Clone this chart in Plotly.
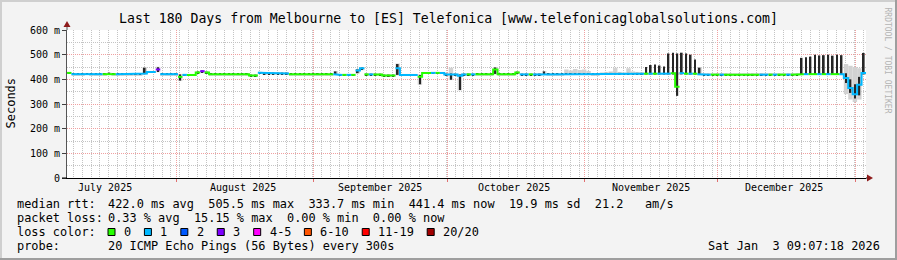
import plotly.graph_objects as go
from datetime import datetime, timedelta

# ---------------- data ----------------
TITLE = "Last 180 Days from Melbourne to [ES] Telefonica [www.telefonicaglobalsolutions.com]"
START = datetime(2025, 7, 7, 9, 7, 18)
N_DAYS = 180

# daily median rtt (ms)
median_rtt = [
    426, 421, 421, 421, 422, 421, 421, 421, 421, 424,
    421, 421, 421, 421, 421, 421, 421, 424, 430, 430,
    440, 421, 421, 421, 421, 410, 418, 418, 418, 428,
    433, 428, 421, 421, 421, 421, 421, 421, 421, 421,
    421, 416, 416, 427, 424, 424, 424, 424, 424, 424,
    421, 421, 421, 421, 421, 421, 421, 421, 421, 421,
    421, 418, 418, 418, 418, 436, 445, 420, 420, 420,
    420, 416, 416, 416, 445, 418, 418, 418, 418, 410,
    426, 426, 426, 426, 426, 420, 420, 420, 415, 420,
    420, 420, 421, 421, 421, 421, 440, 421, 421, 421,
    421, 428, 420, 420, 420, 420, 420, 421, 421, 421,
    421, 421, 421, 421, 421, 421, 421, 421, 421, 421,
    423, 423, 423, 423, 423, 423, 423, 423, 423, 423,
    423, 423, 423, 423, 423, 423, 425, 370, 425, 423,
    423, 423, 421, 419, 419, 419, 419, 419, 419, 419,
    419, 419, 419, 419, 419, 419, 419, 419, 419, 419,
    419, 419, 419, 419, 419, 421, 421, 421, 421, 421,
    421, 421, 421, 421, 421, 405, 365, 340, 378, 426,
]

# daily loss class (index into loss_labels)
loss_class = [
    0, 1, 1, 1, 1, 1, 1, 1, 0, 0,
    0, 1, 1, 1, 1, 1, 1, 1, 1, 1,
    3, 1, 1, 1, 1, 0, 1, 0, 0, 0,
    3, 0, 0, 0, 0, 0, 0, 0, 0, 0,
    0, 0, 0, 1, 1, 1, 1, 1, 1, 1,
    0, 0, 0, 0, 0, 0, 0, 0, 0, 0,
    1, 1, 0, 1, 0, 1, 1, 0, 1, 0,
    0, 0, 0, 0, 1, 1, 1, 1, 1, 0,
    0, 0, 1, 0, 1, 1, 1, 1, 1, 1,
    0, 1, 0, 0, 0, 0, 0, 0, 0, 0,
    0, 0, 1, 1, 0, 1, 1, 1, 1, 1,
    1, 1, 1, 1, 1, 1, 1, 1, 1, 1,
    1, 1, 1, 1, 1, 1, 1, 1, 1, 1,
    0, 1, 0, 1, 1, 1, 0, 0, 1, 0,
    1, 0, 1, 1, 1, 0, 0, 1, 0, 0,
    0, 0, 0, 0, 0, 0, 1, 1, 0, 1,
    0, 0, 1, 0, 0, 0, 1, 0, 0, 1,
    0, 1, 0, 0, 1, 1, 1, 1, 1, 1,
]

# dense part of the ping distribution (dark smoke)
core_lo = [
    423, 418, 418, 418, 419, 418, 418, 418, 418, 421,
    418, 418, 418, 418, 418, 418, 418, 421, 427, 427,
    430, 418, 418, 418, 418, 395, 415, 415, 415, 424,
    428, 425, 418, 418, 418, 418, 418, 418, 418, 418,
    418, 413, 413, 424, 421, 421, 421, 421, 421, 421,
    418, 418, 418, 418, 418, 418, 418, 418, 418, 418,
    418, 415, 415, 415, 415, 425, 438, 417, 417, 417,
    417, 413, 413, 413, 418, 415, 415, 415, 415, 380,
    423, 423, 423, 423, 423, 417, 398, 417, 357, 417,
    417, 417, 418, 418, 418, 418, 422, 418, 418, 418,
    418, 425, 417, 417, 417, 417, 417, 418, 418, 418,
    418, 418, 418, 418, 418, 418, 418, 418, 418, 418,
    420, 420, 420, 420, 420, 420, 420, 420, 420, 420,
    420, 420, 420, 420, 420, 420, 420, 333, 420, 420,
    420, 420, 418, 416, 416, 416, 416, 416, 416, 416,
    416, 416, 416, 416, 416, 416, 416, 416, 416, 416,
    416, 416, 416, 416, 416, 418, 418, 418, 418, 418,
    418, 418, 418, 418, 418, 385, 345, 322, 335, 420,
]
core_hi = [
    429, 424, 424, 424, 425, 424, 424, 424, 424, 427,
    424, 424, 424, 424, 424, 424, 424, 447, 433, 433,
    449, 424, 424, 424, 424, 420, 421, 421, 421, 432,
    436, 431, 424, 424, 424, 424, 424, 424, 424, 424,
    424, 419, 419, 430, 427, 427, 427, 427, 427, 427,
    424, 424, 424, 424, 424, 424, 424, 424, 424, 424,
    432, 421, 421, 421, 421, 440, 448, 423, 423, 423,
    423, 419, 419, 419, 462, 421, 421, 421, 421, 418,
    429, 429, 429, 429, 429, 423, 424, 423, 420, 423,
    423, 423, 424, 424, 424, 424, 448, 424, 424, 424,
    424, 431, 423, 423, 423, 423, 423, 432, 424, 424,
    424, 424, 424, 424, 424, 424, 424, 424, 424, 424,
    426, 426, 426, 426, 426, 426, 426, 426, 426, 426,
    450, 458, 460, 456, 452, 505, 508, 505, 508, 505,
    500, 480, 447, 422, 422, 422, 422, 422, 422, 422,
    422, 422, 422, 422, 422, 422, 422, 422, 422, 422,
    422, 422, 422, 422, 422, 487, 490, 492, 500, 497,
    498, 500, 496, 500, 498, 425, 400, 380, 410, 507,
]

# full spread of the pings (light smoke)
smoke_lo = [
    422, 417, 417, 417, 418, 417, 417, 417, 417, 420,
    417, 417, 417, 417, 417, 417, 417, 420, 426, 426,
    429, 417, 417, 417, 417, 393, 414, 414, 414, 423,
    427, 424, 417, 417, 417, 417, 417, 417, 417, 417,
    417, 412, 412, 423, 420, 420, 420, 420, 420, 420,
    417, 417, 417, 417, 417, 417, 417, 417, 417, 417,
    417, 414, 414, 414, 414, 424, 437, 416, 416, 416,
    416, 412, 412, 412, 416, 414, 414, 414, 414, 378,
    422, 422, 422, 422, 422, 416, 397, 416, 355, 416,
    416, 416, 417, 417, 417, 417, 420, 417, 417, 417,
    417, 424, 416, 416, 416, 416, 416, 417, 417, 417,
    417, 417, 417, 417, 417, 417, 417, 417, 417, 417,
    419, 419, 419, 419, 419, 419, 419, 419, 419, 419,
    420, 420, 420, 420, 420, 420, 422, 420, 422, 420,
    420, 420, 417, 415, 415, 415, 415, 415, 415, 415,
    415, 415, 415, 415, 415, 415, 415, 415, 415, 415,
    415, 415, 415, 415, 415, 418, 418, 418, 418, 418,
    418, 418, 418, 418, 418, 340, 318, 308, 318, 418,
]
smoke_hi = [
    430, 425, 425, 425, 426, 425, 425, 425, 425, 428,
    425, 425, 425, 425, 425, 425, 425, 449, 434, 434,
    451, 425, 425, 425, 425, 422, 422, 422, 422, 433,
    437, 432, 425, 425, 425, 425, 425, 425, 425, 425,
    425, 420, 420, 431, 428, 428, 428, 428, 428, 428,
    425, 425, 425, 425, 425, 425, 425, 425, 425, 425,
    434, 422, 422, 422, 422, 442, 450, 424, 424, 424,
    424, 420, 420, 420, 464, 422, 422, 422, 422, 420,
    430, 430, 430, 430, 430, 424, 447, 424, 422, 424,
    424, 424, 425, 425, 425, 425, 450, 425, 425, 425,
    425, 432, 424, 424, 424, 424, 424, 434, 425, 425,
    425, 425, 440, 436, 442, 438, 440, 434, 425, 425,
    428, 430, 432, 447, 430, 428, 445, 432, 430, 428,
    426, 426, 426, 426, 426, 426, 428, 428, 428, 426,
    426, 426, 450, 425, 425, 425, 425, 425, 425, 425,
    425, 425, 425, 425, 425, 425, 425, 425, 425, 425,
    425, 425, 425, 425, 425, 426, 426, 426, 426, 426,
    426, 426, 426, 426, 426, 462, 455, 450, 445, 430,
]

for arr in (median_rtt, loss_class, core_lo, core_hi, smoke_lo, smoke_hi):
    assert len(arr) == N_DAYS, len(arr)

y_tick_values = [0, 100, 200, 300, 400, 500, 600]
y_tick_labels = ["0", "100 m", "200 m", "300 m", "400 m", "500 m", "600 m"]
month_starts = ["2025-08-01", "2025-09-01", "2025-10-01", "2025-11-01", "2025-12-01", "2026-01-01"]
month_label_dates = ["2025-07-16", "2025-08-16", "2025-09-16", "2025-10-16", "2025-11-16", "2025-12-16"]
month_labels = ["July 2025", "August 2025", "September 2025", "October 2025", "November 2025", "December 2025"]

loss_labels = ["0", "1", "2", "3", "4-5", "6-10", "11-19", "20/20"]
loss_colors = ["#26ff00", "#00b8ff", "#0059ff", "#7e00ff", "#ff00ff", "#ff5500", "#ff0000", "#a10000"]

stats_rtt = "422.0 ms avg  505.5 ms max  333.7 ms min  441.4 ms now  19.9 ms sd  21.2   am/s"
stats_loss = "0.33 % avg  15.15 % max  0.00 % min  0.00 % now"
probe_text = "20 ICMP Echo Pings (56 Bytes) every 300s"
timestamp = "Sat Jan  3 09:07:18 2026"
watermark = "RRDTOOL / TOBI OETIKER"

# ---------------- geometry helpers (pixel -> paper) ----------------
W, H = 897, 260
L, R, T, B = 67, 866, 30, 178
FONT = "DejaVu Sans Mono"
CH = 7.14  # legend character advance


def px(x):
    return (x - L) / (R - L)


def py(y):
    return (B - y) / (B - T)


def nb(s):
    return s.replace(" ", "\u00a0")


DAY_MS = 86400000
day_start = [START + timedelta(days=i) for i in range(N_DAYS + 1)]
day_mid = [START + timedelta(days=i + 0.5) for i in range(N_DAYS)]

fig = go.Figure()

# light smoke
fig.add_trace(go.Bar(
    x=day_mid, y=[h - l for l, h in zip(smoke_lo, smoke_hi)], base=smoke_lo,
    width=DAY_MS, marker=dict(color="#d2d2d2", line=dict(width=0)),
    hoverinfo="skip", showlegend=False))
# dense smoke
fig.add_trace(go.Bar(
    x=day_mid, y=[h - l for l, h in zip(core_lo, core_hi)], base=core_lo,
    width=0.38 * DAY_MS, marker=dict(color="#262626", line=dict(width=0)),
    hoverinfo="skip", showlegend=False))

# median line coloured by loss
for cls in sorted(set(loss_class)):
    xs, ys = [], []
    i = 0
    while i < N_DAYS:
        if loss_class[i] != cls:
            i += 1
            continue
        xs.append(day_start[i]); ys.append(median_rtt[i])
        while True:
            xs.append(day_start[i + 1]); ys.append(median_rtt[i])
            if i + 1 < N_DAYS and loss_class[i + 1] == cls:
                i += 1
                xs.append(day_start[i]); ys.append(median_rtt[i])
            else:
                break
        xs.append(None); ys.append(None)
        i += 1
    fig.add_trace(go.Scatter(x=xs, y=ys, mode="lines",
                             line=dict(color=loss_colors[cls], width=2),
                             hoverinfo="skip", showlegend=False, connectgaps=False))

fig.update_layout(
    width=W, height=H,
    margin=dict(l=L, r=W - R, t=T, b=H - B, pad=0),
    paper_bgcolor="#f3f3f3", plot_bgcolor="#ffffff",
    showlegend=False, barmode="overlay",
    font=dict(family=FONT, size=10, color="#000000"),
)
fig.update_xaxes(
    type="date", range=[START, day_start[-1]], fixedrange=True,
    tickmode="array", tickvals=month_starts, showticklabels=False,
    ticks="outside", ticklen=3, tickcolor="#e07070",
    showgrid=True, gridcolor="#f0a0a0", gridwidth=1, griddash="1px,1px",
    minor=dict(dtick=2 * DAY_MS, tick0="2025-07-08 19:00", showgrid=True,
               gridcolor="#c4c4c4", gridwidth=1, griddash="1px,1px", ticks=""),
    showline=True, linecolor="#000000", linewidth=1, zeroline=False,
)
fig.update_yaxes(
    range=[0, 600], fixedrange=True,
    tickmode="array", tickvals=y_tick_values, ticktext=y_tick_labels,
    ticks="outside", ticklen=4, tickcolor="#404040",
    tickfont=dict(family=FONT, size=10, color="#000000"),
    showgrid=True, gridcolor="#f0a0a0", gridwidth=1, griddash="1px,1px",
    minor=dict(dtick=50, showgrid=True, gridcolor="#c4c4c4", gridwidth=1,
               griddash="1px,1px", ticks=""),
    showline=True, linecolor="#555555", linewidth=1, zeroline=False,
)

shapes = []
# frame (3D shading)
shapes.append(dict(type="rect", xref="paper", yref="paper", x0=px(0), x1=px(W), y0=py(0), y1=py(2),
                   fillcolor="#cfcfcf", line=dict(width=0), layer="above"))
shapes.append(dict(type="rect", xref="paper", yref="paper", x0=px(0), x1=px(2), y0=py(0), y1=py(H),
                   fillcolor="#cfcfcf", line=dict(width=0), layer="above"))
shapes.append(dict(type="rect", xref="paper", yref="paper", x0=px(0), x1=px(W), y0=py(H - 2), y1=py(H),
                   fillcolor="#9e9e9e", line=dict(width=0), layer="above"))
shapes.append(dict(type="rect", xref="paper", yref="paper", x0=px(W - 2), x1=px(W), y0=py(0), y1=py(H),
                   fillcolor="#9e9e9e", line=dict(width=0), layer="above"))
# axis extensions and arrows
shapes.append(dict(type="line", xref="paper", yref="paper", x0=px(67), x1=px(67), y0=py(30), y1=py(25),
                   line=dict(color="#555555", width=1)))
shapes.append(dict(type="path", xref="paper", yref="paper",
                   path=f"M {px(63.5)},{py(27)} L {px(70.5)},{py(27)} L {px(67)},{py(21)} Z",
                   fillcolor="#8e1b1b", line=dict(width=0)))
shapes.append(dict(type="line", xref="paper", yref="paper", x0=px(62), x1=px(67), y0=py(178), y1=py(178),
                   line=dict(color="#000000", width=1)))
shapes.append(dict(type="line", xref="paper", yref="paper", x0=px(866), x1=px(868), y0=py(178), y1=py(178),
                   line=dict(color="#000000", width=1)))
shapes.append(dict(type="path", xref="paper", yref="paper",
                   path=f"M {px(867)},{py(174.5)} L {px(867)},{py(181.5)} L {px(873)},{py(178)} Z",
                   fillcolor="#8e1b1b", line=dict(width=0)))

annotations = []


def text(x, y, s, size=11.9, xanchor="left", color="#000000", angle=0, yanchor="middle"):
    annotations.append(dict(xref="paper", yref="paper", x=px(x), y=py(y), text=nb(s),
                            showarrow=False, xanchor=xanchor, yanchor=yanchor, textangle=angle,
                            font=dict(family=FONT, size=size, color=color), borderpad=0))


text(448, 18.5, TITLE, size=13.2, xanchor="center")
text(10.5, 103, "Seconds", size=12, xanchor="center", angle=-90)
text(887.5, 60, watermark, size=8, xanchor="center", color="#b4b4b4", angle=90)

for d, lab in zip(month_label_dates, month_labels):
    annotations.append(dict(xref="x", yref="paper", x=d, y=py(187), text=nb(lab), showarrow=False,
                            xanchor="center", yanchor="middle",
                            font=dict(family=FONT, size=10, color="#000000"), borderpad=0))

ROWS = [204, 218, 232, 246]
text(16, ROWS[0], "median rtt:")
text(107, ROWS[0], stats_rtt)
text(16, ROWS[1], "packet loss:")
text(107, ROWS[1], stats_loss)
text(16, ROWS[2], "loss color:")
bx = 108
for lab, col in zip(loss_labels, loss_colors):
    shapes.append(dict(type="rect", xref="paper", yref="paper", x0=px(bx), x1=px(bx + 7),
                       y0=py(ROWS[2] + 3.5), y1=py(ROWS[2] - 3.5),
                       fillcolor=col, line=dict(color="#000000", width=1), layer="above"))
    text(bx + 15, ROWS[2], lab)
    bx += 15 + (len(lab) + 2) * CH
text(16, ROWS[3], "probe:")
text(107, ROWS[3], probe_text)
text(881, ROWS[3], timestamp, xanchor="right")

fig.update_layout(shapes=shapes, annotations=annotations)
fig.write_html("out.html")
